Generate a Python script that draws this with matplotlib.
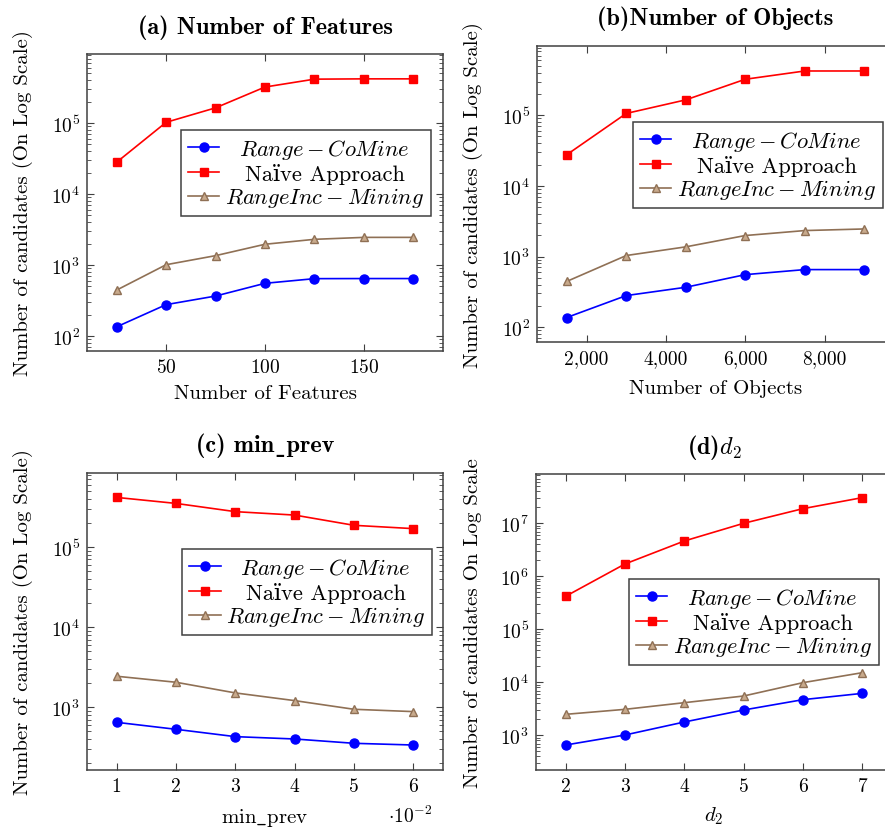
import matplotlib
matplotlib.use("Agg")
import matplotlib.pyplot as plt
from matplotlib.ticker import FixedLocator, FuncFormatter, LogLocator, NullFormatter, NullLocator

plt.rcParams['font.family'] = ['cmr10', 'DejaVu Serif']
plt.rcParams['mathtext.fontset'] = 'cm'
plt.rcParams['axes.formatter.use_mathtext'] = True
plt.rcParams['axes.unicode_minus'] = False

# ---------------- data ----------------
features = [25, 50, 75, 100, 125, 150, 175]
feat_comine = [135, 277, 366, 553, 643, 645, 645]
feat_naive = [2.8e4, 1.02e5, 1.63e5, 3.2e5, 4.13e5, 4.17e5, 4.17e5]
feat_inc = [444, 1010, 1355, 1960, 2300, 2450, 2450]

objects = [1500, 3000, 4500, 6000, 7500, 9000]
obj_comine = [137, 280, 367, 554, 653, 653]
obj_naive = [2.76e4, 1.06e5, 1.65e5, 3.23e5, 4.23e5, 4.23e5]
obj_inc = [444, 1033, 1370, 1982, 2330, 2456]

min_prev = [0.01, 0.02, 0.03, 0.04, 0.05, 0.06]
prev_comine = [649, 531, 430, 402, 355, 338]
prev_naive = [4.17e5, 3.51e5, 2.77e5, 2.51e5, 1.87e5, 1.70e5]
prev_inc = [2441, 2053, 1511, 1211, 944, 883]

d2 = [2, 3, 4, 5, 6, 7]
d2_comine = [657, 1015, 1785, 3006, 4710, 6190]
d2_naive = [4.2e5, 1.71e6, 4.64e6, 1.0e7, 1.89e7, 3.05e7]
d2_inc = [2490, 3093, 4130, 5520, 9860, 1.52e4]

series_labels = [r'$Range-CoMine$', 'Naïve Approach', r'$RangeInc-Mining$']

# ---------------- style ----------------
BLUE = '#0000ff'
RED = '#ff0000'
BROWN = '#8f7055'
BROWN_FACE = '#c8aa8c'
FRAME = '#404040'
TITLE_FS = 17.5
LABEL_FS = 15
LEG_FS = 16.2

W, H = 885, 829
fig = plt.figure(figsize=(W / 100, H / 100), dpi=100)


def px_axes(left, top, right, bottom):
    return fig.add_axes([left / W, (H - bottom) / H, (right - left) / W, (bottom - top) / H])


def style_axes(ax):
    ax.set_yscale('log')
    for s in ax.spines.values():
        s.set_color(FRAME)
        s.set_linewidth(1.1)
    ax.tick_params(which='both', direction='in', top=True, right=True, color=FRAME,
                   labelsize=14, pad=5)
    ax.tick_params(which='major', length=5, width=0.8)
    ax.tick_params(which='minor', length=3, width=0.6)
    ax.xaxis.set_minor_locator(NullLocator())
    ax.yaxis.set_major_locator(LogLocator(base=10, numticks=20))
    ax.yaxis.set_minor_locator(LogLocator(base=10, subs=range(2, 10), numticks=20))
    ax.yaxis.set_minor_formatter(NullFormatter())


def plot_series(ax, x, comine, naive, inc):
    ax.plot(x, comine, color=BLUE, lw=1.2, marker='o', ms=6.5, mfc=BLUE, mec=BLUE,
            label=series_labels[0])
    ax.plot(x, naive, color=RED, lw=1.2, marker='s', ms=5.8, mfc=RED, mec=RED,
            label=series_labels[1])
    ax.plot(x, inc, color=BROWN, lw=1.2, marker='^', ms=6, mfc=BROWN_FACE, mec=BROWN,
            label=series_labels[2])


legends = []


def add_legend(ax, anchor):
    leg = ax.legend(loc='upper right', bbox_to_anchor=anchor, fontsize=LEG_FS,
                    frameon=True, fancybox=False, framealpha=1, edgecolor=FRAME,
                    handlelength=1.4, handletextpad=0.25, borderpad=0.3,
                    labelspacing=0.08, borderaxespad=0, numpoints=1)
    leg.get_frame().set_linewidth(1.1)
    legends.append(leg)
    return leg


TITLE_FONT = dict(fontsize=TITLE_FS, fontweight='bold', family=['cmb10', 'DejaVu Serif'])

# (a)
axa = px_axes(87, 55, 443, 352)
plot_series(axa, features, feat_comine, feat_naive, feat_inc)
style_axes(axa)
axa.set_xlim(10, 190)
axa.set_ylim(10 ** 1.79, 10 ** 5.97)
axa.xaxis.set_major_locator(FixedLocator([50, 100, 150]))
axa.set_title('(a) Number of Features', pad=15, **TITLE_FONT)
axa.set_xlabel('Number of Features', fontsize=LABEL_FS)
axa.set_ylabel('Number of candidates (On Log Scale)', fontsize=LABEL_FS)
axa.xaxis.set_label_coords(0.5, -0.11)
axa.yaxis.set_label_coords(-0.152, 0.5)
add_legend(axa, (0.966, 0.744))

# (b)
axb = px_axes(537, 47, 894, 343)
plot_series(axb, objects, obj_comine, obj_naive, obj_inc)
style_axes(axb)
axb.set_xlim(750, 9750)
axb.set_ylim(10 ** 1.79, 10 ** 5.98)
axb.xaxis.set_major_locator(FixedLocator([2000, 4000, 6000, 8000]))
axb.xaxis.set_major_formatter(FuncFormatter(lambda v, p: f'{int(round(v)):,}'))
axb.set_title('(b)Number of Objects', pad=15.5, **TITLE_FONT)
axb.set_xlabel('Number of Objects', fontsize=LABEL_FS)
axb.set_ylabel('Number of candidates (On Log Scale)', fontsize=LABEL_FS)
axb.xaxis.set_label_coords(0.5, -0.125)
axb.yaxis.set_label_coords(-0.151, 0.5)
add_legend(axb, (0.969, 0.743))

# (c)
axc = px_axes(87, 474, 443, 771)
plot_series(axc, min_prev, prev_comine, prev_naive, prev_inc)
style_axes(axc)
axc.set_xlim(0.005, 0.065)
axc.set_ylim(10 ** 2.217, 10 ** 5.925)
axc.xaxis.set_major_locator(FixedLocator(min_prev))
axc.xaxis.set_major_formatter(FuncFormatter(lambda v, p: f'{v * 100:.0f}'))
axc.set_title('(c) min\u02cdprev', pad=16, **TITLE_FONT)
axc.set_xlabel(r'$\mathrm{min\_prev}$', fontsize=LABEL_FS)
axc.set_ylabel('Number of candidates (On Log Scale)', fontsize=LABEL_FS)
axc.xaxis.set_label_coords(0.5, -0.12)
axc.yaxis.set_label_coords(-0.152, 0.5)
axc.text(0.969, -0.175, r'$\cdot 10^{-2}$', transform=axc.transAxes, ha='right',
         va='baseline', fontsize=14)
add_legend(axc, (0.969, 0.744))

# (d)
axd = px_axes(536, 475, 892, 771)
plot_series(axd, d2, d2_comine, d2_naive, d2_inc)
style_axes(axd)
axd.set_xlim(1.5, 7.5)
axd.set_ylim(10 ** 2.346, 10 ** 7.93)
axd.xaxis.set_major_locator(FixedLocator(d2))
axd.set_title(r'(d)$d_2$', pad=15, **TITLE_FONT)
axd.set_xlabel(r'$d_2$', fontsize=LABEL_FS)
axd.set_ylabel('Number of candidates On Log Scale', fontsize=LABEL_FS)
axd.xaxis.set_label_coords(0.5, -0.115)
axd.yaxis.set_label_coords(-0.152, 0.5)
add_legend(axd, (0.963, 0.645))

# centre legend texts within their column (as in the original)
fig.canvas.draw()
renderer = fig.canvas.get_renderer()
for leg in legends:
    texts = leg.get_texts()
    widths = [t.get_window_extent(renderer).width for t in texts]
    wmax = max(widths)
    for t, w in zip(texts, widths):
        t.set_position(((wmax - w) / 2, 0))

fig.savefig('out.png', dpi=100)
